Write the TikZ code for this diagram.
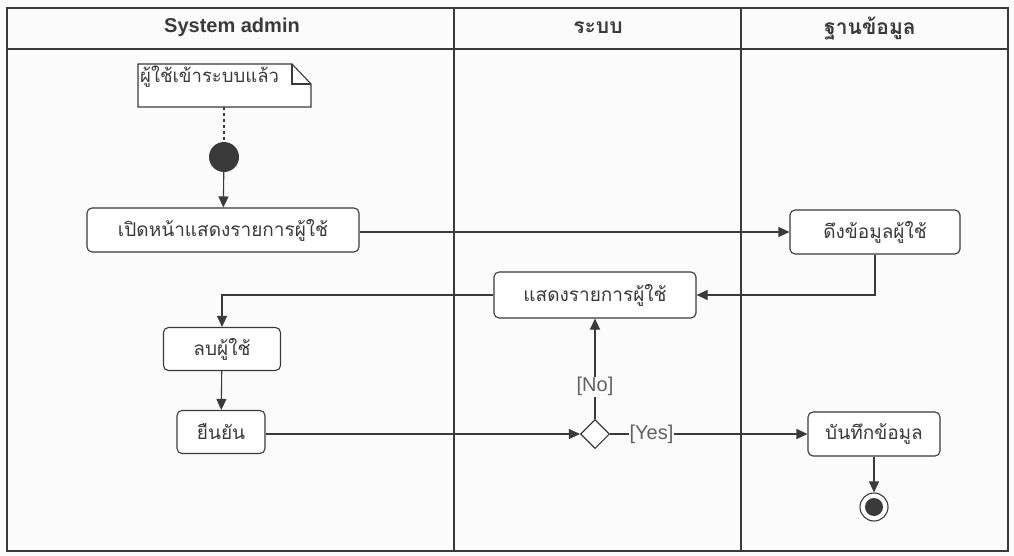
\documentclass[tikz,border=0pt]{standalone}
\usepackage{fontspec}
\setmainfont{Liberation Sans}
\newfontfamily\thai[Script=Thai]{Loma}
\usetikzlibrary{arrows.meta,shapes.geometric,positioning}
\definecolor{ln}{HTML}{3A3A3A}
\definecolor{bg}{HTML}{FBFBFB}
\tikzset{
  act/.style={draw=ln,line width=1.1pt,rounded corners=5pt,fill=white,inner sep=0pt,font=\thai\fontsize{19}{22}\selectfont,text=ln},
  flow/.style={draw=ln,line width=1.1pt,-{Triangle[length=11pt,width=10pt]}},
  lane/.style={draw=ln,line width=1.1pt},
  hdr/.style={font=\fontsize{20}{23}\selectfont\bfseries,text=ln},
  thaihdr/.style={font=\thai\fontsize{21}{24}\selectfont\bfseries,text=ln},
  guard/.style={fill=bg,inner sep=1pt,font=\fontsize{20}{23}\selectfont,text=ln!80}
}
\begin{document}
\begin{tikzpicture}[x=1pt,y=-1pt]
\useasboundingbox (0,0) rectangle (1014,556);
\fill[bg] (0,0) rectangle (1014,556);
% swimlanes
\draw[lane] (7,8) rectangle (1008,551);
\draw[lane] (7,49) -- (1008,49);
\draw[lane] (454,8) -- (454,551);
\draw[lane] (741,8) -- (741,551);
\node[hdr] (h1) at (232,27) {System admin};
\node[thaihdr] (h2) at (598,28) {ระบบ};
\node[thaihdr] (h3) at (870,28) {ฐานข้อมูล};
% note
\draw[lane,fill=white] (138,64) -- (292,64) -- (311,84) -- (311,107) -- (138,107) -- cycle;
\draw[lane] (292,64) -- (292,84) -- (311,84);
\coordinate (notebot) at (224,107);
\node[anchor=west,inner sep=0pt,font=\thai\fontsize{18.5}{21}\selectfont,text=ln] (notetext) at (140,77) {ผู้ใช้เข้าระบบแล้ว};
% initial
\node[circle,fill=ln,minimum size=30pt,inner sep=0pt] (init) at (224,157) {};
% activities
\node[act,minimum width=272pt,minimum height=44pt] (open) at (223,230) {เปิดหน้าแสดงรายการผู้ใช้};
\node[act,minimum width=170pt,minimum height=44pt] (fetch) at (875,232) {ดึงข้อมูลผู้ใช้};
\node[act,minimum width=202pt,minimum height=46pt] (show) at (595,295) {แสดงรายการผู้ใช้};
\node[act,minimum width=117pt,minimum height=43pt] (del) at (222,349) {ลบผู้ใช้};
\node[act,minimum width=88pt,minimum height=43pt] (confirm) at (221,432) {ยืนยัน};
\node[draw=ln,line width=1.1pt,fill=white,diamond,minimum size=29pt,inner sep=0pt,aspect=1] (dec) at (595,434) {};
\node[act,minimum width=132pt,minimum height=44pt] (save) at (874,434) {บันทึกข้อมูล};
\node[circle,draw=ln,line width=1.1pt,fill=white,minimum size=28pt,inner sep=0pt] (final) at (874,507) {};
\node[circle,fill=ln,minimum size=18pt,inner sep=0pt] (finalin) at (final) {};
% connectors
\draw[ln,line width=1.1pt,dash pattern=on 3pt off 3pt] (notebot) -- (init.north);
\draw[flow] (init) -- (open);
\draw[flow] (open.east |- fetch.west) -- (fetch.west);
\draw[flow] (fetch.south) |- (show.east);
\draw[flow] (show.west) -| (del.north);
\draw[flow] (del) -- (confirm);
\draw[flow] (confirm.east |- dec.west) -- (dec.west);
\draw[flow] (dec.north) -- node[guard,pos=0.32] (no) {[No]} (show.south);
\draw[flow] (dec.east) -- node[guard,pos=0.21] (yes) {[Yes]} (save.west);
\draw[flow] (save) -- (final);
\end{tikzpicture}
\end{document}
